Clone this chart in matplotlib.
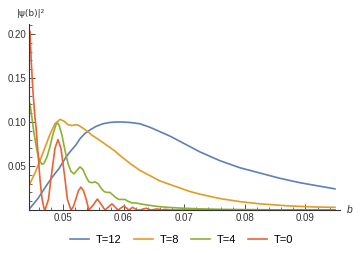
import matplotlib
matplotlib.use('Agg')
import matplotlib.pyplot as plt
from matplotlib.ticker import MultipleLocator, FormatStrFormatter

plt.rcParams['font.family'] = ['Liberation Sans', 'DejaVu Sans']

# colours (Mathematica default palette)
c_12 = '#5E81B5'
c_8 = '#E19C24'
c_4 = '#8FB032'
c_0 = '#EB6235'

# T=12
b_12 = [0.04456, 0.04588, 0.04720, 0.04819, 0.04934, 0.05050, 0.05115, 0.05215,
        0.05281, 0.05363, 0.05446, 0.05545, 0.05660, 0.05776, 0.05875, 0.05974,
        0.06106, 0.06271, 0.06436, 0.06601, 0.06766, 0.06931, 0.07096, 0.07261,
        0.07426, 0.07591, 0.07921, 0.08251, 0.08581, 0.08911, 0.09241, 0.09488]
p_12 = [0.002, 0.013, 0.027, 0.037, 0.047, 0.060, 0.066, 0.074,
        0.081, 0.087, 0.091, 0.095, 0.098, 0.0995, 0.100, 0.100,
        0.0995, 0.098, 0.094, 0.089, 0.084, 0.078, 0.072, 0.066,
        0.061, 0.056, 0.048, 0.042, 0.036, 0.031, 0.027, 0.024]

# T=8
b_8 = [0.04456, 0.04538, 0.04621, 0.04703, 0.04786, 0.04868, 0.04951, 0.05017,
       0.05083, 0.05148, 0.05215, 0.05264, 0.05330, 0.05413, 0.05479, 0.05545,
       0.05611, 0.05693, 0.05776, 0.05858, 0.05941, 0.06106, 0.06271, 0.06436,
       0.06601, 0.06766, 0.06931, 0.07096, 0.07261, 0.07591, 0.07921, 0.08251,
       0.08696, 0.09125, 0.09488]
p_8 = [0.030, 0.042, 0.056, 0.071, 0.086, 0.098, 0.103, 0.101,
       0.097, 0.096, 0.097, 0.096, 0.093, 0.089, 0.085, 0.082,
       0.079, 0.075, 0.071, 0.067, 0.062, 0.053, 0.045, 0.039,
       0.033, 0.029, 0.025, 0.021, 0.018, 0.013, 0.0095, 0.007,
       0.0048, 0.0035, 0.003]

# T=4
b_4 = [0.04456, 0.04488, 0.04521, 0.04555, 0.04588, 0.04621, 0.04654, 0.04687,
       0.04736, 0.04786, 0.04835, 0.04885, 0.04909, 0.04934, 0.04984, 0.05033,
       0.05083, 0.05132, 0.05181, 0.05231, 0.05281, 0.05330, 0.05380, 0.05429,
       0.05479, 0.05528, 0.05578, 0.05627, 0.05677, 0.05726, 0.05776, 0.05825,
       0.05875, 0.05924, 0.05974, 0.06023, 0.06073, 0.06139, 0.06205, 0.06271,
       0.06403, 0.06568, 0.06733, 0.06931, 0.07261, 0.07591, 0.07921, 0.08581,
       0.09488]
p_4 = [0.121, 0.105, 0.088, 0.074, 0.062, 0.055, 0.052, 0.053,
       0.060, 0.072, 0.086, 0.097, 0.099, 0.097, 0.085, 0.068,
       0.053, 0.044, 0.041, 0.045, 0.049, 0.046, 0.038, 0.032,
       0.031, 0.032, 0.030, 0.025, 0.021, 0.020, 0.020, 0.017,
       0.014, 0.012, 0.012, 0.012, 0.010, 0.008, 0.008, 0.007,
       0.0055, 0.004, 0.003, 0.0022, 0.0013, 0.0008, 0.0005, 0.0002,
       0.0001]

# T=0
b_0 = [0.04456, 0.04480, 0.04505, 0.04538, 0.04555, 0.04588, 0.04621, 0.04654,
       0.04687, 0.04703, 0.04761, 0.04810, 0.04868, 0.04918, 0.04967, 0.05025,
       0.05074, 0.05132, 0.05173, 0.05215, 0.05256, 0.05297, 0.05338, 0.05380,
       0.05413, 0.05429, 0.05503, 0.05569, 0.05635, 0.05693, 0.05751, 0.05809,
       0.05858, 0.05908, 0.05957, 0.06007, 0.06048, 0.06089, 0.06147, 0.06188,
       0.06229, 0.06271, 0.06320, 0.06370, 0.06411, 0.06452, 0.06502, 0.06551,
       0.06601, 0.06634, 0.06683, 0.06733, 0.06766, 0.06815, 0.07000, 0.09488]
p_0 = [0.203, 0.165, 0.135, 0.105, 0.095, 0.065, 0.035, 0.013,
       0.002, 0.0, 0.012, 0.040, 0.070, 0.080, 0.070, 0.040,
       0.012, 0.0, 0.004, 0.013, 0.022, 0.026, 0.022, 0.013,
       0.004, 0.0, 0.006, 0.0125, 0.006, 0.0, 0.0035, 0.007,
       0.0035, 0.0, 0.0023, 0.0045, 0.0023, 0.0, 0.003, 0.0015,
       0.0, 0.0, 0.001, 0.002, 0.001, 0.0, 0.0006, 0.0012,
       0.0006, 0.0, 0.0008, 0.0004, 0.0, 0.0, 0.0, 0.0]

labels = ['T=12', 'T=8', 'T=4', 'T=0']

fig = plt.figure(figsize=(3.6, 2.54), dpi=100)
ax = fig.add_axes([29 / 360, 1 - 210 / 254, 311 / 360, 186 / 254])

lw = 1.2
ax.plot(b_12, p_12, color=c_12, lw=lw, label=labels[0])
ax.plot(b_8, p_8, color=c_8, lw=lw, label=labels[1])
ax.plot(b_4, p_4, color=c_4, lw=lw, label=labels[2])
ax.plot(b_0, p_0, color=c_0, lw=lw, label=labels[3])

ax.set_xlim(0.04440, 0.09571)
ax.set_ylim(0, 0.2114)

for s in ['top', 'right']:
    ax.spines[s].set_visible(False)
for s in ['left', 'bottom']:
    ax.spines[s].set_color('#333333')
    ax.spines[s].set_linewidth(0.8)

ax.xaxis.set_minor_locator(MultipleLocator(0.002))
ax.yaxis.set_minor_locator(MultipleLocator(0.01))
ax.xaxis.set_major_formatter(FormatStrFormatter('%.2f'))
ax.yaxis.set_major_formatter(FormatStrFormatter('%.2f'))
ax.set_yticks([0.05, 0.10, 0.15, 0.20])
ax.set_xticks([0.05, 0.06, 0.07, 0.08, 0.09])

ax.tick_params(which='major', direction='in', length=4, width=0.6,
               colors='#333333', labelsize=7, pad=2)
ax.tick_params(which='minor', direction='in', length=2, width=0.5,
               colors='#333333')

fig.text(17 / 360, 1 - 14 / 254, '|ψ(b)|²', fontsize=6.5, color='#333333',
         va='center', ha='left', family=['DejaVu Sans'])
fig.text(347 / 360, 1 - 210 / 254, 'b', fontsize=7.5, style='italic',
         color='#333333', va='center', ha='left')

fig.legend(loc='center', bbox_to_anchor=(0.505, 1 - 240 / 254), ncol=4,
           frameon=False, fontsize=8, handlelength=1.7, columnspacing=1.1,
           handletextpad=0.6)

fig.savefig('out.png', dpi=100)
